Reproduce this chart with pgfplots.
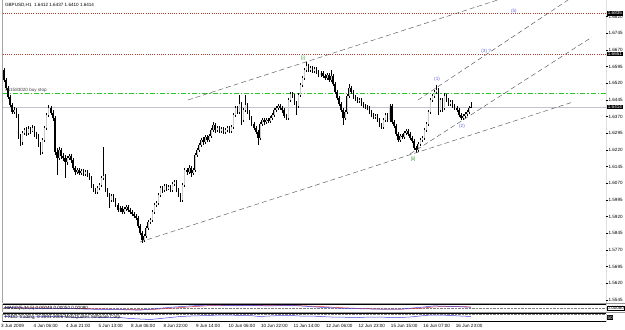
\documentclass[border=0pt]{standalone}
\usepackage{pgfplots}
\pgfplotsset{compat=1.18}
\usepackage{pgfplotstable}
\usepackage{fontspec}
\setmainfont{Liberation Sans}
\definecolor{lvl}{RGB}{175,65,45}
\definecolor{pendc}{RGB}{40,200,40}
\definecolor{bidc}{RGB}{195,195,205}
\definecolor{trend}{RGB}{85,85,85}
\definecolor{wblue}{RGB}{90,90,225}
\definecolor{wgreen}{RGB}{40,150,40}
\definecolor{sepc}{RGB}{150,150,150}
\definecolor{mred}{RGB}{225,50,60}
\definecolor{mblue}{RGB}{70,70,225}
\definecolor{bullin}{RGB}{205,205,205}
\newcommand{\tf}{\fontsize{4.6}{5}\selectfont}

\pgfplotstableread{
i o h l c
0 1.6580 1.6589 1.6526 1.6535
1 1.6535 1.6544 1.6490 1.6499
2 1.6499 1.6508 1.6450 1.6459
3 1.6459 1.6468 1.6414 1.6423
4 1.6423 1.6432 1.6382 1.6391
5 1.6391 1.6414 1.6382 1.6400
6 1.6400 1.6409 1.6364 1.6373
7 1.6373 1.6382 1.6270 1.6279
8 1.6279 1.6292 1.6238 1.6256
9 1.6256 1.6306 1.6243 1.6297
10 1.6297 1.6319 1.6288 1.6310
11 1.6310 1.6324 1.6283 1.6297
12 1.6297 1.6328 1.6288 1.6315
13 1.6315 1.6324 1.6292 1.6306
14 1.6306 1.6333 1.6301 1.6319
15 1.6319 1.6328 1.6279 1.6292
16 1.6292 1.6301 1.6270 1.6283
17 1.6283 1.6292 1.6234 1.6247
18 1.6247 1.6256 1.6198 1.6211
19 1.6211 1.6274 1.6202 1.6265
20 1.6265 1.6328 1.6256 1.6319
21 1.6319 1.6387 1.6310 1.6378
22 1.6378 1.6423 1.6369 1.6409
23 1.6409 1.6418 1.6378 1.6387
24 1.6387 1.6400 1.6351 1.6364
25 1.6364 1.6373 1.6198 1.6211
26 1.6211 1.6229 1.6108 1.6184
27 1.6184 1.6234 1.6175 1.6220
28 1.6220 1.6229 1.6180 1.6193
29 1.6193 1.6207 1.6171 1.6184
30 1.6184 1.6198 1.6094 1.6166
31 1.6166 1.6193 1.6153 1.6184
32 1.6184 1.6202 1.6175 1.6193
33 1.6193 1.6202 1.6162 1.6175
34 1.6175 1.6184 1.6130 1.6139
35 1.6139 1.6148 1.6108 1.6121
36 1.6121 1.6139 1.6112 1.6130
37 1.6130 1.6139 1.6108 1.6117
38 1.6117 1.6135 1.6108 1.6126
39 1.6126 1.6135 1.6103 1.6112
40 1.6112 1.6130 1.6103 1.6121
41 1.6121 1.6130 1.6099 1.6108
42 1.6108 1.6117 1.6085 1.6094
43 1.6094 1.6103 1.6049 1.6058
44 1.6058 1.6067 1.6031 1.6040
45 1.6040 1.6049 1.6022 1.6031
46 1.6031 1.6058 1.6022 1.6049
47 1.6049 1.6072 1.6040 1.6063
48 1.6063 1.6103 1.6054 1.6094
49 1.6094 1.6234 1.6085 1.6103
50 1.6103 1.6112 1.6031 1.6040
51 1.6040 1.6049 1.6009 1.6018
52 1.6018 1.6027 1.5959 1.5995
53 1.5995 1.6022 1.5986 1.6013
54 1.6013 1.6022 1.5986 1.5995
55 1.5995 1.6004 1.5964 1.5973
56 1.5973 1.5982 1.5941 1.5950
57 1.5950 1.5968 1.5941 1.5959
58 1.5959 1.5968 1.5932 1.5941
59 1.5941 1.5964 1.5932 1.5955
60 1.5955 1.5973 1.5946 1.5964
61 1.5964 1.5973 1.5941 1.5950
62 1.5950 1.5959 1.5932 1.5941
63 1.5941 1.5950 1.5923 1.5932
64 1.5932 1.5941 1.5914 1.5923
65 1.5923 1.5932 1.5905 1.5914
66 1.5914 1.5923 1.5869 1.5878
67 1.5878 1.5887 1.5838 1.5847
68 1.5847 1.5856 1.5802 1.5815
69 1.5815 1.5842 1.5806 1.5833
70 1.5833 1.5878 1.5824 1.5869
71 1.5869 1.5905 1.5860 1.5896
72 1.5896 1.5914 1.5887 1.5905
73 1.5905 1.5950 1.5896 1.5941
74 1.5941 1.5982 1.5932 1.5973
75 1.5973 1.5991 1.5964 1.5982
76 1.5982 1.6027 1.5973 1.6018
77 1.6018 1.6058 1.6009 1.6049
78 1.6049 1.6058 1.6027 1.6040
79 1.6040 1.6067 1.6031 1.6058
80 1.6058 1.6067 1.6036 1.6045
81 1.6045 1.6063 1.6040 1.6054
82 1.6054 1.6063 1.6031 1.6040
83 1.6040 1.6076 1.6031 1.6067
84 1.6067 1.6085 1.6058 1.6076
85 1.6076 1.6085 1.6031 1.6040
86 1.6040 1.6049 1.6009 1.6018
87 1.6018 1.6027 1.5986 1.5995
88 1.5995 1.6072 1.5986 1.6063
89 1.6063 1.6139 1.6054 1.6130
90 1.6130 1.6139 1.6108 1.6121
91 1.6121 1.6153 1.6112 1.6139
92 1.6139 1.6148 1.6099 1.6117
93 1.6117 1.6139 1.6108 1.6130
94 1.6130 1.6207 1.6121 1.6198
95 1.6198 1.6229 1.6189 1.6220
96 1.6220 1.6252 1.6211 1.6243
97 1.6243 1.6274 1.6234 1.6265
98 1.6265 1.6279 1.6243 1.6256
99 1.6256 1.6288 1.6247 1.6279
100 1.6279 1.6288 1.6256 1.6265
101 1.6265 1.6292 1.6256 1.6283
102 1.6283 1.6319 1.6274 1.6310
103 1.6310 1.6346 1.6301 1.6333
104 1.6333 1.6342 1.6297 1.6310
105 1.6310 1.6328 1.6301 1.6319
106 1.6319 1.6328 1.6297 1.6306
107 1.6306 1.6324 1.6297 1.6315
108 1.6315 1.6324 1.6292 1.6301
109 1.6301 1.6319 1.6292 1.6310
110 1.6310 1.6328 1.6301 1.6319
111 1.6319 1.6328 1.6297 1.6306
112 1.6306 1.6333 1.6297 1.6324
113 1.6324 1.6387 1.6315 1.6378
114 1.6378 1.6418 1.6369 1.6409
115 1.6409 1.6418 1.6382 1.6391
116 1.6391 1.6468 1.6382 1.6427
117 1.6427 1.6436 1.6333 1.6355
118 1.6355 1.6409 1.6346 1.6400
119 1.6400 1.6468 1.6391 1.6423
120 1.6423 1.6432 1.6382 1.6391
121 1.6391 1.6400 1.6355 1.6364
122 1.6364 1.6373 1.6328 1.6337
123 1.6337 1.6346 1.6310 1.6319
124 1.6319 1.6328 1.6292 1.6301
125 1.6301 1.6310 1.6243 1.6274
126 1.6274 1.6346 1.6265 1.6337
127 1.6337 1.6364 1.6328 1.6355
128 1.6355 1.6364 1.6333 1.6346
129 1.6346 1.6364 1.6337 1.6355
130 1.6355 1.6364 1.6342 1.6351
131 1.6351 1.6373 1.6342 1.6364
132 1.6364 1.6387 1.6355 1.6378
133 1.6378 1.6409 1.6369 1.6400
134 1.6400 1.6418 1.6391 1.6409
135 1.6409 1.6427 1.6400 1.6418
136 1.6418 1.6427 1.6400 1.6409
137 1.6409 1.6418 1.6387 1.6400
138 1.6400 1.6409 1.6364 1.6373
139 1.6373 1.6382 1.6355 1.6364
140 1.6364 1.6454 1.6355 1.6445
141 1.6445 1.6481 1.6436 1.6472
142 1.6472 1.6481 1.6454 1.6463
143 1.6463 1.6472 1.6423 1.6432
144 1.6432 1.6441 1.6378 1.6418
145 1.6418 1.6477 1.6409 1.6468
146 1.6468 1.6522 1.6459 1.6513
147 1.6513 1.6553 1.6504 1.6544
148 1.6544 1.6589 1.6535 1.6580
149 1.6580 1.6616 1.6571 1.6598
150 1.6598 1.6607 1.6571 1.6580
151 1.6580 1.6598 1.6571 1.6589
152 1.6589 1.6598 1.6567 1.6576
153 1.6576 1.6594 1.6567 1.6585
154 1.6585 1.6594 1.6562 1.6571
155 1.6571 1.6580 1.6549 1.6558
156 1.6558 1.6576 1.6549 1.6567
157 1.6567 1.6576 1.6544 1.6553
158 1.6553 1.6562 1.6535 1.6544
159 1.6544 1.6567 1.6535 1.6558
160 1.6558 1.6567 1.6526 1.6535
161 1.6535 1.6580 1.6526 1.6553
162 1.6553 1.6562 1.6508 1.6517
163 1.6517 1.6526 1.6472 1.6481
164 1.6481 1.6490 1.6445 1.6454
165 1.6454 1.6463 1.6418 1.6427
166 1.6427 1.6436 1.6391 1.6400
167 1.6400 1.6409 1.6333 1.6364
168 1.6364 1.6400 1.6355 1.6391
169 1.6391 1.6472 1.6382 1.6463
170 1.6463 1.6517 1.6454 1.6499
171 1.6499 1.6508 1.6472 1.6481
172 1.6481 1.6490 1.6450 1.6459
173 1.6459 1.6468 1.6441 1.6450
174 1.6450 1.6459 1.6432 1.6441
175 1.6441 1.6454 1.6432 1.6445
176 1.6445 1.6454 1.6418 1.6427
177 1.6427 1.6436 1.6409 1.6418
178 1.6418 1.6427 1.6405 1.6414
179 1.6414 1.6423 1.6400 1.6409
180 1.6409 1.6418 1.6382 1.6391
181 1.6391 1.6400 1.6369 1.6378
182 1.6378 1.6387 1.6360 1.6369
183 1.6369 1.6382 1.6360 1.6373
184 1.6373 1.6382 1.6346 1.6355
185 1.6355 1.6364 1.6324 1.6333
186 1.6333 1.6342 1.6315 1.6324
187 1.6324 1.6364 1.6315 1.6355
188 1.6355 1.6387 1.6346 1.6378
189 1.6378 1.6387 1.6346 1.6355
190 1.6355 1.6427 1.6346 1.6418
191 1.6418 1.6427 1.6337 1.6346
192 1.6346 1.6355 1.6319 1.6328
193 1.6328 1.6337 1.6283 1.6292
194 1.6292 1.6301 1.6256 1.6265
195 1.6265 1.6292 1.6256 1.6283
196 1.6283 1.6292 1.6270 1.6279
197 1.6279 1.6306 1.6270 1.6297
198 1.6297 1.6315 1.6288 1.6306
199 1.6306 1.6315 1.6283 1.6292
200 1.6292 1.6301 1.6265 1.6274
201 1.6274 1.6283 1.6252 1.6261
202 1.6261 1.6270 1.6220 1.6229
203 1.6229 1.6238 1.6207 1.6220
204 1.6220 1.6256 1.6211 1.6247
205 1.6247 1.6274 1.6238 1.6265
206 1.6265 1.6283 1.6256 1.6274
207 1.6274 1.6319 1.6265 1.6310
208 1.6310 1.6346 1.6301 1.6337
209 1.6337 1.6400 1.6328 1.6391
210 1.6391 1.6454 1.6382 1.6445
211 1.6445 1.6472 1.6436 1.6463
212 1.6463 1.6490 1.6454 1.6481
213 1.6481 1.6513 1.6472 1.6490
214 1.6490 1.6499 1.6378 1.6400
215 1.6400 1.6454 1.6391 1.6445
216 1.6445 1.6454 1.6391 1.6409
217 1.6409 1.6477 1.6400 1.6463
218 1.6463 1.6472 1.6436 1.6445
219 1.6445 1.6454 1.6418 1.6427
220 1.6427 1.6445 1.6418 1.6436
221 1.6436 1.6445 1.6409 1.6418
222 1.6418 1.6427 1.6400 1.6409
223 1.6409 1.6418 1.6391 1.6400
224 1.6400 1.6409 1.6369 1.6378
225 1.6378 1.6387 1.6355 1.6364
226 1.6364 1.6382 1.6355 1.6373
227 1.6373 1.6391 1.6364 1.6382
228 1.6382 1.6400 1.6373 1.6391
229 1.6391 1.6418 1.6382 1.6409
230 1.6412 1.6437 1.6410 1.6414
}\candles

\pgfplotsset{
  candle/.style 2 args={draw=none, mark=none, forget plot,
    error bars/.cd, y dir=both, y explicit, error mark=none,
    error bar style={draw=#1, line width=#2}},
}

\begin{document}
\begin{tikzpicture}
% ---------------- main price panel ----------------
\begin{axis}[
  name=main,
  at={(2.5bp,330bp)}, anchor=north west,
  scale only axis, width=603.5bp, height=303bp,
  xmin=-0.75, xmax=296.54, ymin=1.55315, ymax=1.6895,
  enlargelimits=false,
  axis line style={draw=none},
  xtick=\empty,
  ytick={1.5545,1.5620,1.5695,1.5770,1.5845,1.5920,1.5995,1.6070,1.6145,1.6220,1.6295,1.6370,1.6445,1.6520,1.6595,1.6670,1.6745,1.6820},
  yticklabels={1.5545,1.5620,1.5695,1.5770,1.5845,1.5920,1.5995,1.6070,1.6145,1.6220,1.6295,1.6370,1.6445,1.6520,1.6595,1.6670,1.6745,1.6820},
  ytick pos=right, yticklabel pos=right,
  tick align=outside, major tick length=2bp,
  tick style={black, line width=0.4bp},
  yticklabel style={font=\tf, anchor=west, inner sep=0.4bp},
]
% horizontal levels
\addplot[draw=lvl, dash pattern=on 1bp off 1.2bp, line width=0.55bp] coordinates {(-0.75,1.6835) (296.54,1.6835)};
\addplot[draw=lvl, dash pattern=on 1bp off 1.2bp, line width=0.55bp] coordinates {(-0.75,1.6651) (296.54,1.6651)};
\addplot[draw=pendc, dash pattern=on 5bp off 2bp on 1.5bp off 2bp, line width=0.8bp] coordinates {(-0.75,1.6475) (296.54,1.6475)};
\addplot[draw=bidc, line width=0.5bp] coordinates {(-0.75,1.6414) (296.54,1.6414)};
% wicks
\addplot[candle={black}{0.4bp}]
  table[x=i, y expr={(\thisrow{h}+\thisrow{l})/2}, y error expr={(\thisrow{h}-\thisrow{l})/2}] {\candles};
% bodies (all black)
\addplot[candle={black}{1.35bp}]
  table[x=i, y expr={(\thisrow{o}+\thisrow{c})/2}, y error expr={abs(\thisrow{o}-\thisrow{c})/2}] {\candles};
% light inside of bullish bodies
\addplot[candle={bullin}{0.5bp}]
  table[x=i, y expr={(\thisrow{o}+\thisrow{c})/2}, y error expr={max(\thisrow{c}-\thisrow{o}-0.0002,0)/2}] {\candles};
% trend lines
\addplot[trend, dash pattern=on 5bp off 3bp, line width=0.45bp] coordinates {(67.0,1.5806) (280.3,1.6436)};
\addplot[trend, dash pattern=on 5bp off 3bp, line width=0.45bp] coordinates {(90.6,1.6445) (245.5,1.6902)};
\addplot[trend, dash pattern=on 5bp off 3bp, line width=0.45bp] coordinates {(203.9,1.6445) (278.5,1.6899)};
\addplot[trend, dash pattern=on 5bp off 3bp, line width=0.45bp] coordinates {(200.0,1.6202) (289.7,1.67285)};
% wave labels
\node[wgreen, font=\tf, inner sep=0] at (axis cs:147.3,1.6634) {[i]};
\node[wgreen, font=\tf, inner sep=0] at (axis cs:201.5,1.6180) {[ii]};
\node[wblue, font=\tf, inner sep=0] at (axis cs:213.3,1.6540) {(1)};
\node[wblue, font=\tf, inner sep=0] at (axis cs:225.6,1.6328) {(2)};
\node[wblue, font=\tf, inner sep=0] at (axis cs:237.5,1.6666) {(3) ?};
\node[wblue, font=\tf, inner sep=0] at (axis cs:251.2,1.6845) {(5)};
% texts
\node[anchor=west, font=\tf, inner sep=0] at (rel axis cs:0.004,0.984) {GBPUSD,H1\ \ 1.6412 1.6437 1.6410 1.6414};
\node[anchor=west, font=\tf, inner sep=0, black!75] at (rel axis cs:0.0045,0.7025) {\#11583020 buy stop};
\draw[black, line width=0.5bp] (rel axis cs:0,0) -- (rel axis cs:1,0);
\draw[black, line width=0.5bp] (rel axis cs:0,0) -- (rel axis cs:0,1);
\draw[black, line width=0.5bp] (rel axis cs:1,0) -- (rel axis cs:1,1);
\coordinate (pA) at (axis cs:0,1.6835);
\coordinate (pB) at (axis cs:0,1.6651);
\coordinate (pC) at (axis cs:0,1.6414);
\coordinate (rt) at (rel axis cs:1,0);
\end{axis}
% price boxes
\foreach \n/\t in {pA/1.6835,pB/1.6651,pC/1.6414}
  \node[fill=black, text=white, font=\tf, inner xsep=1.1bp, inner ysep=0.6bp, anchor=west] at ([xshift=0.6bp]rt |- \n) {\t};

% ---------------- indicator panel 1 ----------------
\begin{axis}[
  name=p1,
  at={(main.south west)}, anchor=north west, yshift=-1.5bp,
  scale only axis, width=603.5bp, height=7.5bp,
  xmin=-0.75, xmax=296.54, ymin=-0.004, ymax=0.004,
  enlargelimits=false,
  axis line style={draw=none}, xtick=\empty, ytick=\empty,
]
\addplot[gray, densely dotted, line width=0.4bp] coordinates {(-0.75,0) (296.54,0)};
\addplot[mred, line width=0.5bp] coordinates {(0,0.0005) (13,0.0005) (28,0.0000) (42,-0.0005) (57,-0.0010) (67,-0.0015) (72,-0.0015) (82,0.0000) (92,0.0015) (101,0.0028) (111,0.0032) (121,0.0030) (131,0.0027) (141,0.0028) (146,0.0027) (156,0.0018) (166,0.0006) (175,-0.0002) (185,-0.0008) (195,-0.0010) (205,0.0000) (212,0.0015) (220,0.0020) (230,0.0015)};
\addplot[mblue, line width=0.5bp] coordinates {(0,0.0010) (13,0.0000) (28,0.0000) (42,-0.0010) (57,-0.0015) (67,-0.0020) (72,-0.0010) (82,0.0010) (92,0.0025) (101,0.0035) (111,0.0030) (121,0.0030) (131,0.0025) (141,0.0030) (146,0.0025) (156,0.0010) (166,0.0000) (175,-0.0005) (185,-0.0010) (195,-0.0010) (205,0.0010) (212,0.0025) (220,0.0020) (230,0.0010)};
\node[anchor=west, font=\tf, inner sep=0] at (rel axis cs:0.004,0.5) {MACD(5,34,5) 0.00049 0.00050 0.00080};
\draw[black, line width=0.4bp] (rel axis cs:0,1) -- (rel axis cs:1,1);
\draw[black, line width=0.4bp] (rel axis cs:0,0) -- (rel axis cs:1,0);
\draw[black, line width=0.5bp] (rel axis cs:0,0) -- (rel axis cs:0,1);
\draw[black, line width=0.5bp] (rel axis cs:1,0) -- (rel axis cs:1,1);
\coordinate (m1) at (rel axis cs:1,0.5);
\end{axis}
\node[anchor=west, font=\tf, inner sep=0.3bp, fill=white, draw=black, line width=0.3bp] at ([xshift=1bp]m1) {0.00080};

% ---------------- indicator panel 2 ----------------
\begin{axis}[
  name=p2,
  at={(p1.south west)}, anchor=north west, yshift=-1.5bp,
  scale only axis, width=603.5bp, height=8bp,
  xmin=-0.75, xmax=296.54, ymin=-4, ymax=4,
  enlargelimits=false,
  axis line style={draw=none}, ytick=\empty,
  xtick={0,16,32,48,64,80,96,112,128,144,160,176,192,208,224},
  xticklabels={3 Jun 2009,4 Jun 06:00,4 Jun 21:00,5 Jun 13:00,8 Jun 06:00,8 Jun 22:00,9 Jun 14:00,10 Jun 06:00,10 Jun 22:00,11 Jun 14:00,12 Jun 06:00,12 Jun 23:00,15 Jun 15:00,16 Jun 07:00,16 Jun 23:00},
  major tick length=0pt,
  xticklabel style={font=\tf, anchor=north west, inner sep=0, xshift=-3bp, yshift=-2.2bp},
]
\addplot[gray, densely dotted, line width=0.4bp] coordinates {(-0.75,3.6) (296.54,3.6)};
\addplot[gray, densely dotted, line width=0.4bp] coordinates {(-0.75,-3.6) (296.54,-3.6)};
\addplot[mblue, line width=0.5bp] coordinates {(0,1) (8,0.5) (13,0.5) (20,1) (28,1) (35,0) (42,0.5) (50,0) (57,0) (62,-1) (67,-1.5) (72,-2) (77,-1) (82,0) (87,1) (92,1.5) (101,2) (106,2.5) (111,2.5) (116,2) (121,2) (126,1) (131,1.5) (136,2) (141,2) (146,1.5) (151,1.5) (156,1) (161,0.5) (166,0.5) (170,0) (175,0) (180,0.5) (185,0.5) (190,0) (195,0) (200,0.5) (205,1.5) (210,2.5) (215,2.5) (220,2) (225,1.5) (230,1)};
\node[anchor=west, font=\tf, inner sep=0] at (rel axis cs:0.004,0.5) {FXDD Trading, © 2001-2006 MetaQuotes Software Corp.};
\draw[black, line width=0.4bp] (rel axis cs:0,1) -- (rel axis cs:1,1);
\draw[black, line width=0.4bp] (rel axis cs:0,0) -- (rel axis cs:1,0);
\draw[black, line width=0.5bp] (rel axis cs:0,0) -- (rel axis cs:0,1);
\draw[black, line width=0.5bp] (rel axis cs:1,0) -- (rel axis cs:1,1);
\coordinate (m2) at (rel axis cs:1,0.5);
\end{axis}
\node[anchor=west, fill=black, text=white, font=\tf, inner sep=0.4bp] at ([xshift=1bp]m2) {50};
% grey separators between panels
\draw[sepc, line width=1bp] ([yshift=-0.8bp]main.south west) -- ++(622bp,0bp);
\draw[sepc, line width=1bp] ([yshift=-0.8bp]p1.south west) -- ++(622bp,0bp);
\pgfresetboundingbox
\path[use as bounding box] (0bp,0bp) rectangle (625bp,330bp);
\end{tikzpicture}
\end{document}
